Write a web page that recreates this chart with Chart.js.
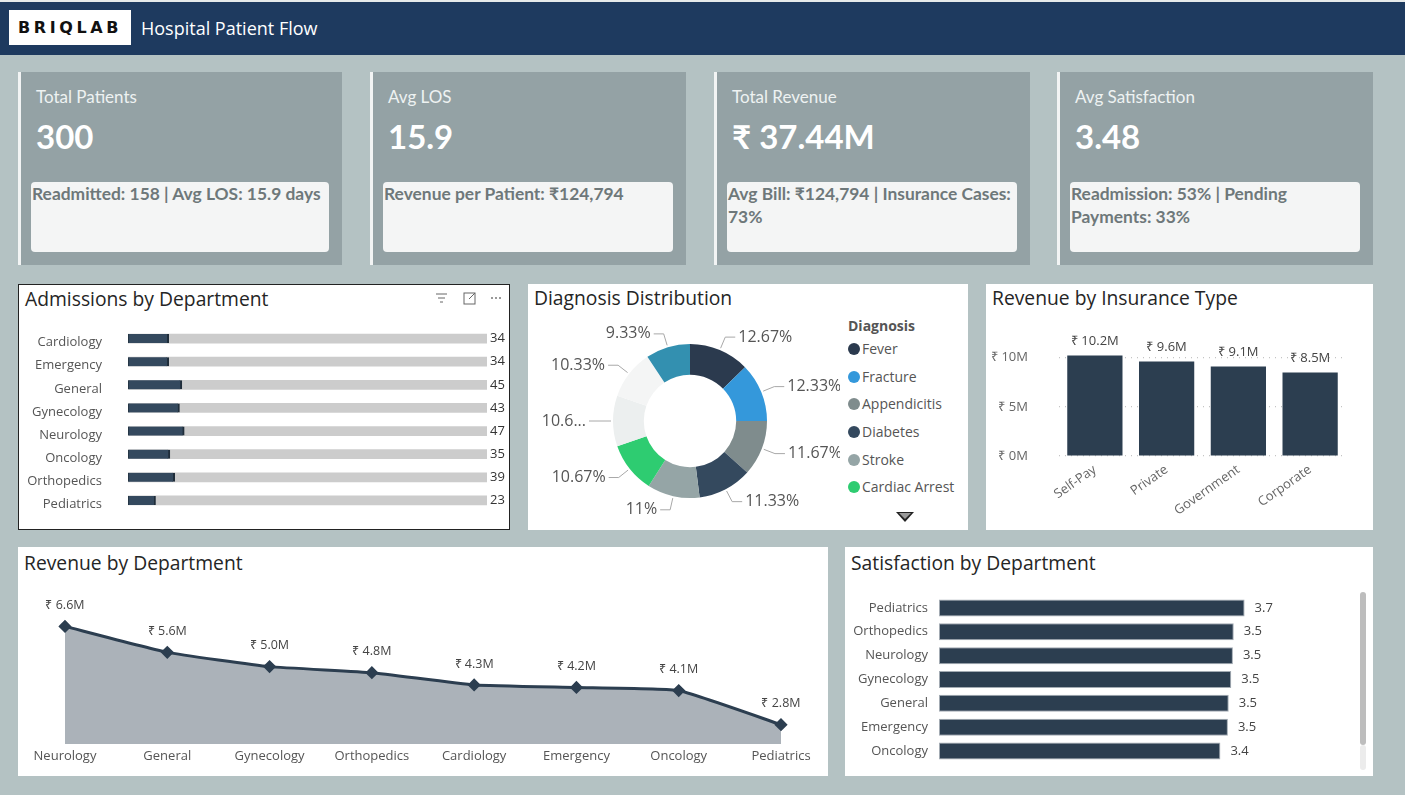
<!DOCTYPE html>
<html>
<head>
<meta charset="utf-8">
<script src="https://cdn.jsdelivr.net/npm/chart.js@4.4.1/dist/chart.umd.min.js"></script>
<style>
  html, body { margin: 0; padding: 0; }
  body { width: 1405px; height: 795px; background: #b4c2c3; position: relative; overflow: hidden;
         font-family: 'Segoe UI', 'Open Sans', sans-serif; }
  .abs { position: absolute; }
  #header { left: 0; top: 2px; width: 1405px; height: 53px; background: #1e3a5f; }
  #logo { left: 9px; top: 8px; width: 122px; height: 35px; background: #fff; color: #111;
          font: 900 16px 'DejaVu Sans', sans-serif; letter-spacing: 3.6px; line-height: 35px; text-align: center; }
  #apptitle { left: 141px; top: 0; line-height: 53px; color: #fff; font-size: 18px; }
  .card { background: #94a2a5; border-left: 3px solid #f2f4f4; box-sizing: border-box; height: 193px; top: 72px; }
  .klabel { left: 15px; top: 14px; line-height: 22px; font: 17px 'Lato', sans-serif; color: #eef2f2; }
  .kval { left: 15px; top: 44px; line-height: 40px; font: 700 33px 'Lato', sans-serif; color: #fff; }
  .knote { left: 10px; top: 110px; height: 70px; background: #f4f5f5; border-radius: 4px;
           font: 700 17.4px 'Lato', sans-serif; color: #6e787a; line-height: 23px; padding-left: 1px; box-sizing: border-box; }
  .panel { background: #fff; box-sizing: border-box; }
  .ptitle { left: 6px; top: 1px; font-size: 19.3px; color: #252525; line-height: 26px; white-space: nowrap; }
  .wrap { position: absolute; }
  #legend { left: 848px; top: 317px; font-size: 14px; color: #555; }
  #legend .lt { font-weight: 700; line-height: 18px; margin-bottom: 4px; }
  #legend .li { height: 27.7px; line-height: 20px; white-space: nowrap; }
  #legend .dot { display: inline-block; width: 12px; height: 12px; border-radius: 50%; vertical-align: -1px; margin-right: 2px; }
  #arrow { left: 896px; top: 512px; width: 0; height: 0; border-left: 9px solid transparent; border-right: 9px solid transparent; border-top: 10px solid #222; }
  #arrowin { left: 899px; top: 513px; width: 0; height: 0; border-left: 6px solid transparent; border-right: 6px solid transparent; border-top: 6px solid #999; }
  #scroll { left: 1360px; top: 592px; width: 6px; height: 153px; background: #bdbdbd; border-radius: 3px; }
  #scrolltrack { left: 1360px; top: 745px; width: 6px; height: 25px; background: #ececec; border-radius: 3px; }
</style>
</head>
<body>
<div class="abs" style="left:0;top:0;width:1405px;height:2px;background:#e6eaea"></div>
<div id="header" class="abs">
  <div id="logo" class="abs">BRIQLAB</div>
  <div id="apptitle" class="abs">Hospital Patient Flow</div>
</div>

<div id="cards"></div>

<div class="abs panel" style="left:18px;top:284px;width:492px;height:246px;border:1px solid #222">
  <div class="abs ptitle">Admissions by Department</div>
  <svg class="abs" style="left:415px;top:6px" width="70" height="16">
    <g stroke="#666" stroke-width="1" fill="none">
      <line x1="2" y1="3" x2="13" y2="3"/><line x1="4" y1="7" x2="11" y2="7"/><line x1="6" y1="11" x2="9" y2="11"/>
      <rect x="30" y="2" width="11" height="11"/><line x1="35" y1="8" x2="41" y2="2"/>
    </g>
    <g fill="#777"><circle cx="58" cy="7" r="1"/><circle cx="62" cy="7" r="1"/><circle cx="66" cy="7" r="1"/></g>
  </svg>
</div>
<div class="abs panel" style="left:528px;top:284px;width:440px;height:246px">
  <div class="abs ptitle">Diagnosis Distribution</div>
</div>
<div class="abs panel" style="left:986px;top:284px;width:387px;height:246px">
  <div class="abs ptitle">Revenue by Insurance Type</div>
</div>
<div class="abs panel" style="left:18px;top:547px;width:810px;height:229px">
  <div class="abs ptitle" style="top:3px">Revenue by Department</div>
</div>
<div class="abs panel" style="left:845px;top:547px;width:528px;height:229px">
  <div class="abs ptitle" style="top:3px">Satisfaction by Department</div>
</div>

<div class="wrap" style="left:19px;top:320px;width:490px;height:200px"><canvas id="admChart"></canvas></div>
<div class="wrap" style="left:528px;top:314px;width:312px;height:214px"><canvas id="diagChart"></canvas></div>
<div id="legend" class="abs"></div>
<div id="arrow" class="abs"></div>
<div id="arrowin" class="abs"></div>
<div class="wrap" style="left:987px;top:320px;width:385px;height:208px"><canvas id="insChart"></canvas></div>
<div class="wrap" style="left:19px;top:590px;width:808px;height:185px"><canvas id="revChart"></canvas></div>
<div class="wrap" style="left:846px;top:590px;width:510px;height:180px"><canvas id="satChart"></canvas></div>
<div id="scroll" class="abs"></div>
<div id="scrolltrack" class="abs"></div>

<script>
// KPI cards
const kpiTitles = ['Total Patients', 'Avg LOS', 'Total Revenue', 'Avg Satisfaction'];
const kpiValues = ['300', '15.9', '₹ 37.44M', '3.48'];
const kpiNotes = [
  'Readmitted: 158 | Avg LOS: 15.9 days',
  'Revenue per Patient: ₹124,794',
  'Avg Bill: ₹124,794 | Insurance Cases: 73%',
  'Readmission: 53% | Pending Payments: 33%'
];

// Admissions by Department
const admDepts = ['Cardiology', 'Emergency', 'General', 'Gynecology', 'Neurology', 'Oncology', 'Orthopedics', 'Pediatrics'];
const admValues = [34, 34, 45, 43, 47, 35, 39, 23];
const totalPatients = 300;

// Diagnosis Distribution (patient counts)
const diagNames = ['Fever', 'Fracture', 'Appendicitis', 'Diabetes', 'Stroke', 'Cardiac Arrest', 'Pneumonia', 'Asthma', 'Hypertension'];
const diagCounts = [38, 37, 35, 34, 33, 32, 32, 31, 28];
const diagColors = ['#2b3a4e', '#3498db', '#7f8c8d', '#34495e', '#95a5a6', '#2ecc71', '#ecefef', '#f4f5f5', '#3390b0'];
const legendShown = 6;

// Revenue by Insurance Type
const insTypes = ['Self-Pay', 'Private', 'Government', 'Corporate'];
const insRevenue = [10.21e6, 9.62e6, 9.11e6, 8.50e6];
const insTicks = [0, 5e6, 10e6];

// Revenue by Department
const revDepts = ['Neurology', 'General', 'Gynecology', 'Orthopedics', 'Cardiology', 'Emergency', 'Oncology', 'Pediatrics'];
const revValues = [6.62e6, 5.60e6, 5.04e6, 4.80e6, 4.32e6, 4.22e6, 4.10e6, 2.76e6];

// Satisfaction by Department
const satDepts = ['Pediatrics', 'Orthopedics', 'Neurology', 'Gynecology', 'General', 'Emergency', 'Oncology'];
const satValues = [3.66, 3.53, 3.52, 3.50, 3.47, 3.46, 3.37];

// ---- cards
const cardLefts = [18, 370, 714, 1057];
const cardWidths = [324, 316, 316, 316];
const cardsEl = document.getElementById('cards');
kpiTitles.forEach((t, i) => {
  const c = document.createElement('div');
  c.className = 'abs card';
  c.style.left = cardLefts[i] + 'px';
  c.style.width = cardWidths[i] + 'px';
  c.innerHTML = '<div class="abs klabel">' + t + '</div>' +
    '<div class="abs kval">' + kpiValues[i] + '</div>' +
    '<div class="abs knote" style="width:' + (cardWidths[i] - 26) + 'px">' + kpiNotes[i] + '</div>';
  cardsEl.appendChild(c);
});

// ---- legend
const legendEl = document.getElementById('legend');
let lg = '<div class="lt">Diagnosis</div>';
for (let i = 0; i < legendShown; i++) {
  lg += '<div class="li"><span class="dot" style="background:' + diagColors[i] + '"></span>' + diagNames[i] + '</div>';
}
legendEl.innerHTML = lg;

Chart.defaults.font.family = "'Segoe UI', 'Open Sans', sans-serif";
Chart.defaults.animation = false;
Chart.defaults.plugins.legend.display = false;
Chart.defaults.plugins.tooltip.enabled = false;
Chart.defaults.maintainAspectRatio = false;

const money = v => '₹ ' + (v / 1e6).toFixed(1) + 'M';
// vertical axes: keep the chart area where the layout padding puts it
const fixWidth = w => s => { s.width = w; s.paddingTop = 0; s.paddingBottom = 0; };

// small helper plugin: write text next to each element of dataset 0
function valueLabels(id, fmt, place, font, color) {
  return {
    id: id,
    afterDatasetsDraw(chart) {
      const ctx = chart.ctx;
      const meta = chart.getDatasetMeta(0);
      ctx.save();
      ctx.font = font;
      ctx.fillStyle = color;
      meta.data.forEach((el, i) => {
        const p = place(chart, el);
        ctx.textAlign = p.align;
        ctx.textBaseline = 'middle';
        ctx.fillText(fmt(chart.data.datasets[0].data[i], i), p.x, p.y);
      });
      ctx.restore();
    }
  };
}

// ---- Admissions
new Chart(document.getElementById('admChart'), {
  type: 'bar',
  data: {
    labels: admDepts,
    datasets: [
      { data: admValues, backgroundColor: '#34495e', borderColor: '#1f2d3a', borderWidth: { left: 1, right: 2 },
        borderSkipped: false, barThickness: 9, grouped: false, order: 0 },
      { data: admDepts.map(() => totalPatients), backgroundColor: '#cccccc', barThickness: 9, grouped: false, order: 1 }
    ]
  },
  options: {
    indexAxis: 'y',
    layout: { padding: { top: 7, bottom: 8, right: 22, left: 0 } },
    scales: {
      x: { min: 0, max: totalPatients, display: false },
      y: {
        grid: { display: false, drawTicks: false }, border: { display: false },
        ticks: { color: '#555', font: { size: 13 }, padding: 26, labelOffset: 4 },
        afterFit: fixWidth(109)
      }
    }
  },
  plugins: [valueLabels('admVals', v => v,
    (chart, el) => ({ x: chart.chartArea.right + 3, y: el.y, align: 'left' }), "13px 'Segoe UI','Open Sans',sans-serif", '#333')]
});

// ---- Diagnosis donut
const diagTotal = diagCounts.reduce((a, b) => a + b, 0);
const pct = v => parseFloat((v / diagTotal * 100).toFixed(2)) + '%';
const leaderLabels = {
  id: 'leaderLabels',
  afterDatasetsDraw(chart) {
    const ctx = chart.ctx;
    const meta = chart.getDatasetMeta(0);
    ctx.save();
    ctx.font = "16px 'Segoe UI','Open Sans',sans-serif";
    ctx.textBaseline = 'middle';
    meta.data.forEach((arc, i) => {
      const mid = (arc.startAngle + arc.endAngle) / 2;
      const r = arc.outerRadius;
      const cx = arc.x, cy = arc.y;
      const x0 = cx + Math.cos(mid) * (r + 2), y0 = cy + Math.sin(mid) * (r + 2);
      const x1 = cx + Math.cos(mid) * (r + 14), y1 = cy + Math.sin(mid) * (r + 14);
      const dir = Math.cos(mid) >= 0 ? 1 : -1;
      const x2 = x1 + dir * 10;
      ctx.strokeStyle = '#a8a8a8';
      ctx.lineWidth = 1;
      ctx.beginPath();
      ctx.moveTo(x0, y0); ctx.lineTo(x1, y1); ctx.lineTo(x2, y1);
      ctx.stroke();
      let txt = pct(diagCounts[i]);
      const tx = x2 + dir * 3;
      if (dir < 0) {
        const avail = tx - 8;
        if (ctx.measureText(txt).width > avail) {
          let s = txt;
          while (s.length > 1 && ctx.measureText(s + '...').width > avail) s = s.slice(0, -1);
          txt = s + '...';
        }
      }
      ctx.fillStyle = '#555';
      ctx.textAlign = dir > 0 ? 'left' : 'right';
      ctx.fillText(txt, tx, y1);
    });
    ctx.restore();
  }
};
new Chart(document.getElementById('diagChart'), {
  type: 'doughnut',
  data: { labels: diagNames, datasets: [{ data: diagCounts, backgroundColor: diagColors, borderWidth: 0 }] },
  options: {
    radius: 77,
    cutout: '60%',
    layout: { padding: { left: 12, right: 0, top: 0, bottom: 0 } }
  },
  plugins: [leaderLabels]
});

// ---- Insurance
new Chart(document.getElementById('insChart'), {
  type: 'bar',
  data: { labels: insTypes, datasets: [{ data: insRevenue, backgroundColor: '#2c3e50', barPercentage: 0.77, categoryPercentage: 1 }] },
  options: {
    layout: { padding: { top: 18, right: 26, left: 0, bottom: 0 } },
    scales: {
      y: {
        min: 0, max: 12e6,
        afterBuildTicks(s) { s.ticks = insTicks.map(v => ({ value: v })); },
        grid: { color: '#c4c4c4', drawTicks: false, lineWidth: 1.2 },
        border: { display: false, dash: [1, 5] },
        ticks: { autoSkip: false, color: '#666', font: { size: 13 }, padding: 31, callback: v => '₹ ' + (v / 1e6) + 'M' },
        afterFit: fixWidth(72)
      },
      x: {
        grid: { display: false, drawTicks: false }, border: { display: false },
        ticks: { color: '#666', font: { size: 13 }, minRotation: 35, maxRotation: 35, padding: 6 },
        afterFit(s) { s.height = 72; }
      }
    }
  },
  plugins: [valueLabels('insVals', v => money(v),
    (chart, el) => ({ x: el.x, y: el.y - 14, align: 'center' }), "13px 'Segoe UI','Open Sans',sans-serif", '#444')]
});

// ---- Revenue by Department
new Chart(document.getElementById('revChart'), {
  type: 'line',
  data: {
    labels: revDepts,
    datasets: [{
      data: revValues, borderColor: '#2c3e50', borderWidth: 3, backgroundColor: 'rgba(44,62,80,0.4)',
      fill: 'start', tension: 0.12, pointStyle: 'rectRot', pointRadius: 4.5,
      pointBackgroundColor: '#2c3e50', pointBorderColor: '#2c3e50'
    }]
  },
  options: {
    layout: { padding: { left: 46, right: 46, top: 14, bottom: 0 } },
    scales: {
      y: { display: false, min: 2e6, max: 7.5e6 },
      x: {
        offset: false, grid: { display: false, drawTicks: false }, border: { display: false },
        ticks: { color: '#555', font: { size: 13 }, padding: 4, maxRotation: 0, autoSkip: false },
        afterFit(s) { s.height = 31; }
      }
    }
  },
  plugins: [valueLabels('revVals', v => money(v),
    (chart, el) => ({ x: el.x, y: el.y - 21, align: 'center' }), "12.5px 'Segoe UI','Open Sans',sans-serif", '#444')]
});

// ---- Satisfaction
new Chart(document.getElementById('satChart'), {
  type: 'bar',
  data: {
    labels: satDepts,
    datasets: [{ data: satValues, backgroundColor: '#2c3e50', borderColor: '#a3abb3', borderWidth: 1,
      borderSkipped: false, barPercentage: 0.714, categoryPercentage: 1 }]
  },
  options: {
    indexAxis: 'y',
    layout: { padding: { top: 6, bottom: 7, right: 83, left: 0 } },
    scales: {
      x: { min: 0, max: 4, display: false },
      y: {
        grid: { display: false, drawTicks: false }, border: { display: false },
        ticks: { color: '#555', font: { size: 13 }, padding: 11 },
        afterFit: fixWidth(93)
      }
    }
  },
  plugins: [valueLabels('satVals', v => v.toFixed(1),
    (chart, el) => ({ x: el.x + 10, y: el.y, align: 'left' }), "13px 'Segoe UI','Open Sans',sans-serif", '#444')]
});
</script>
</body>
</html>
